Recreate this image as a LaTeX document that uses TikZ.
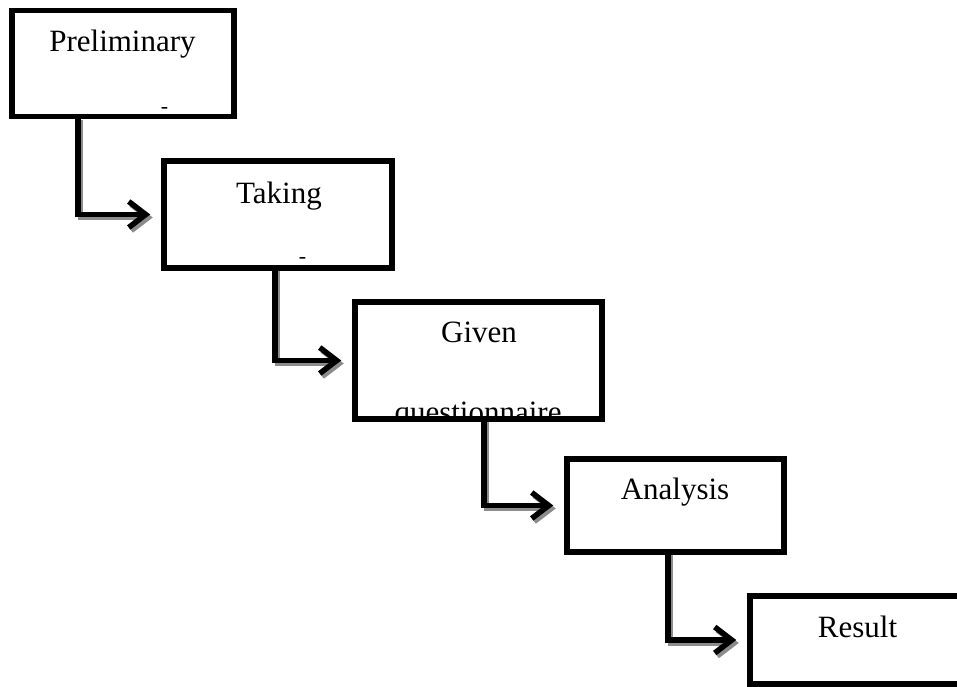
\documentclass[tikz,border=0pt]{standalone}
\usepackage{fontspec}
\setmainfont{Liberation Serif}
\usetikzlibrary{arrows.meta}
\begin{document}
\begin{tikzpicture}[x=1pt,y=-1pt,
  box/.style={draw=black,line width=5.5pt,fill=white,inner sep=0pt,rectangle},
  lbl/.style={font=\fontsize{31}{36}\selectfont,anchor=base,inner sep=0pt},
  tick/.style={font=\fontsize{22}{24}\selectfont,inner sep=0pt},
  conn/.style={line width=5.5pt,-{Straight Barb[length=17pt,width=26pt]},shorten >=11pt},
  shade/.style={conn,draw=black!45,transform canvas={xshift=2.5pt,yshift=-3pt}}]
\useasboundingbox (0,0) rectangle (957,687);
\clip (0,0) rectangle (957,687);

% boxes
\node[box,minimum width=222pt,minimum height=106pt] (b1) at (123,63.5) {};
\node[box,minimum width=228pt,minimum height=107pt] (b2) at (278,214.5) {};
\node[box,minimum width=247pt,minimum height=117pt] (b3) at (478.5,360.5) {};
\node[box,minimum width=217pt,minimum height=93pt] (b4) at (675.5,505.5) {};
\node[box,minimum width=240pt,minimum height=88pt] (b5) at (870,640) {};

% labels
\node[lbl] (t1) at (122.5,52) {Preliminary};
\node[tick] (d1) at (164.5,110) {-};
\node[lbl] (t2) at (279,203) {Taking};
\node[tick] (d2) at (302.5,260) {-};
\node[lbl] (t3) at (479,342) {Given};
\begin{scope}
  \clip ([shift={(5.5,-5.5)}]b3.south west) rectangle ([shift={(-5.5,5.5)}]b3.north east);
  \node[lbl] (t3b) at (478,422) {questionnaire};
\end{scope}
\node[lbl] (t4) at (675,499) {Analysis};
\node[lbl] (t5) at (857.5,637) {Result};

% connector start points on box bottoms
\coordinate (s1) at (78,117);
\coordinate (s2) at (275,268);
\coordinate (s3) at (484,419);
\coordinate (s4) at (668,552);

% shadows
\draw[shade] (s1) |- (b2.west);
\draw[shade] (s2) |- (b3.west);
\draw[shade] (s3) |- (b4.west);
\draw[shade] (s4) |- (b5.west);
% connectors
\draw[conn] (s1) |- (b2.west);
\draw[conn] (s2) |- (b3.west);
\draw[conn] (s3) |- (b4.west);
\draw[conn] (s4) |- (b5.west);
\end{tikzpicture}
\end{document}
